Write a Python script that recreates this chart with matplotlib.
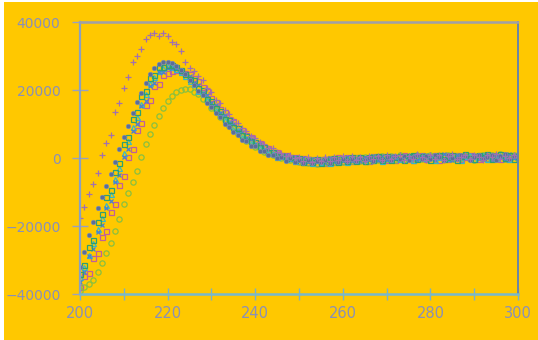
import numpy as np
import matplotlib
matplotlib.use("Agg")
import matplotlib.pyplot as plt
from matplotlib.patches import Rectangle

# Wavelength grid (nm), 1 nm steps
wavelength = list(range(200, 301))

# Ellipticity values in thousands, one list per sample
plus_k = [
    -17.5, -14.5, -10.5, -7.5, -4.5, 0.9, 4.5, 6.8, 13.6, 16.3,
    20.7, 23.7, 28.3, 30.0, 32.0, 34.9, 36.2, 36.7, 36.0, 36.7,
    35.9, 34.2, 33.5, 31.5, 28.3, 26.4, 25.6, 24.0, 22.9, 20.6,
    19.4, 17.2, 16.3, 14.0, 12.9, 11.2, 10.3, 8.7, 7.9, 6.5,
    5.9, 4.6, 4.1, 3.0, 2.8, 1.7, 1.6, 0.6, 0.9, -0.1,
    0.4, -0.8, 0.2, -1.2, -0.1, -0.9, 0.3, -1.0, 0.2, -0.7,
    0.5, -0.8, 0.6, -0.5, 0.4, -0.9, 0.7, -0.3, 0.5, -0.6,
    0.8, -0.4, 0.6, 1.0, -0.5, 0.7, -0.2, 1.1, 0.3, -0.6,
    0.9, -0.2, 1.0, -0.5, 0.6, 1.1, -0.3, 0.4, 0.9, -0.4,
    1.0, 0.2, -0.5, 0.8, 0.3, 1.1, -0.4, 0.7, 0.0, 0.9,
    0.3,
]
dot_k = [
    -32.0, -27.5, -22.5, -18.8, -14.8, -11.6, -8.2, -4.8, -1.2, 2.6,
    6.2, 9.4, 13.2, 16.4, 19.2, 22.0, 24.6, 26.4, 27.6, 28.2,
    28.3, 27.9, 27.1, 26.0, 24.7, 22.9, 21.6, 19.7, 18.4, 16.3,
    15.1, 13.1, 12.0, 10.1, 9.2, 7.6, 6.9, 5.4, 5.0, 3.6,
    3.4, 2.1, 2.0, 0.9, 1.0, -0.1, 0.3, -0.8, -0.1, -1.2,
    -0.5, -1.4, -0.7, -1.6, -0.8, -1.3, -0.6, -1.5, -0.4, -1.2,
    -0.2, -1.0, -0.3, -0.9, 0.0, -0.7, 0.1, -0.8, 0.4, -0.6,
    0.2, -0.5, 0.5, -0.3, 0.6, -0.6, 0.3, 0.8, -0.4, 0.5,
    -0.3, 0.8, 0.2, -0.6, 1.0, 0.0, -0.4, 0.9, 0.5, -0.5,
    0.4, 1.0, -0.3, 0.2, 0.9, -0.5, 0.6, 1.1, -0.2, 0.7,
    0.3,
]
square_a_k = [
    -34.0, -31.5, -26.2, -24.0, -18.9, -16.6, -11.5, -9.4, -4.0, -1.6,
    4.0, 6.2, 11.4, 13.4, 18.2, 19.6, 23.6, 24.4, 26.9, 26.8,
    27.5, 27.3, 26.8, 25.9, 24.8, 23.2, 22.8, 20.6, 19.9, 17.5,
    16.9, 14.6, 13.9, 11.6, 11.2, 9.0, 8.7, 6.8, 6.5, 4.9,
    4.7, 3.2, 3.2, 1.8, 1.9, 0.7, 1.0, -0.1, 0.3, -0.6,
    -0.1, -1.1, -0.2, -1.3, -0.3, -1.4, -0.2, -1.3, 0.0, -1.1,
    0.1, -0.9, 0.2, -1.0, 0.3, -0.8, 0.4, -0.7, 0.5, -0.6,
    0.6, -0.6, 0.3, 0.7, -0.5, 0.5, 0.9, -0.4, 0.6, 0.2,
    -0.6, 0.7, 0.9, -0.3, 0.4, 1.0, -0.6, 0.6, 1.1, -0.1,
    -0.4, 0.9, 0.4, 1.1, -0.2, 0.6, 1.2, -0.1, 0.8, -0.3,
    0.6,
]
square_b_k = [
    -38.0, -34.8, -33.8, -29.4, -28.0, -23.2, -21.4, -16.0, -13.6, -8.0,
    -5.4, 0.2, 2.6, 8.2, 10.4, 15.6, 17.0, 21.2, 21.8, 24.5,
    25.0, 25.6, 25.8, 25.5, 24.9, 24.6, 23.4, 22.6, 20.9, 19.8,
    17.6, 16.6, 14.5, 13.6, 11.5, 10.8, 8.9, 8.3, 6.7, 6.2,
    4.8, 4.5, 3.1, 3.0, 1.8, 1.9, 0.7, 1.0, -0.1, 0.4,
    -0.8, 0.1, -1.3, -0.2, -1.4, -0.3, -1.5, 0.0, -1.2, 0.3,
    -1.0, 0.2, -0.9, 0.4, -0.6, 0.1, -0.8, 0.5, -0.4, 0.7,
    -0.5, 0.6, -0.7, 0.4, 0.9, -0.3, -0.6, 0.7, 1.0, -0.2,
    0.6, 0.9, -0.5, 0.8, -0.3, 0.5, 1.0, -0.4, 0.3, 0.9,
    0.5, -0.4, 0.9, 0.1, 1.0, 0.4, -0.3, 0.8, 0.2, 1.0,
    0.4,
]
cross_k = [
    -36.5, -33.6, -28.7, -26.8, -21.7, -19.8, -14.6, -12.6, -7.2, -5.0,
    0.4, 2.6, 8.0, 10.0, 15.2, 16.8, 21.2, 22.0, 25.2, 25.4,
    26.4, 26.6, 26.3, 25.7, 24.8, 24.1, 22.0, 21.6, 19.2, 18.6,
    16.2, 15.7, 13.2, 12.7, 10.4, 10.1, 7.9, 7.7, 5.8, 5.7,
    4.0, 4.1, 2.5, 2.7, 1.3, 1.6, 0.4, 0.8, -0.3, 0.2,
    -1.0, 0.0, -1.2, -0.4, -1.1, -0.6, -1.4, -0.1, -1.3, 0.1,
    -0.9, 0.3, -0.8, 0.1, -1.0, 0.4, -0.7, 0.5, -0.6, 0.6,
    -0.7, 0.7, -0.4, -0.6, 0.6, 0.3, 0.9, -0.5, 0.4, 1.0,
    0.3, -0.6, 0.7, 1.1, -0.2, -0.5, 0.9, 0.2, 0.7, -0.4,
    0.9, -0.3, 0.6, 1.0, -0.5, 0.8, 0.3, -0.6, 1.1, 0.1,
    0.8,
]
triangle_k = [
    -35.0, -32.0, -28.5, -25.0, -21.0, -17.5, -13.8, -10.5, -6.2, -2.8,
    1.5, 5.0, 9.0, 12.2, 16.0, 18.8, 22.0, 23.8, 25.6, 26.5,
    27.0, 26.7, 26.2, 25.3, 24.2, 22.6, 21.9, 19.8, 19.2, 17.0,
    16.0, 14.0, 13.3, 11.1, 10.6, 8.6, 8.2, 6.3, 6.0, 4.5,
    4.2, 2.9, 2.6, 1.5, 1.4, 0.4, 0.6, -0.4, 0.0, -0.9,
    -0.3, -1.2, -0.4, -1.5, -0.5, -1.2, -0.1, -1.4, -0.3, -0.9,
    0.2, -1.1, 0.0, -0.7, 0.2, -0.9, 0.3, -0.5, 0.1, -0.8,
    0.4, -0.2, 0.7, -0.4, 0.2, 0.8, -0.5, 0.3, 0.9, -0.1,
    0.5, -0.5, 0.4, 0.9, -0.1, 0.7, 0.2, -0.5, 0.6, 1.0,
    -0.2, 0.5, 0.8, -0.4, 0.6, 0.1, 0.9, 0.4, -0.4, 0.6,
    0.5,
]
ring_k = [
    -39.0, -38.0, -37.0, -35.9, -33.6, -30.8, -28.0, -25.0, -21.6, -17.8,
    -13.6, -10.2, -7.2, -3.8, 0.4, 4.0, 7.0, 9.8, 12.4, 14.8,
    16.8, 18.3, 19.3, 20.0, 20.3, 20.3, 19.4, 18.9, 17.5, 16.8,
    14.8, 14.1, 12.0, 11.2, 9.3, 8.7, 7.0, 6.4, 5.0, 4.6,
    3.3, 2.8, 1.9, 1.6, 0.8, 0.6, 0.0, -0.1, -0.6, -0.5,
    -1.3, -0.6, -1.6, -0.5, -1.7, -0.6, -1.5, -0.4, -1.3, -0.3,
    -1.1, -0.2, -0.9, -0.1, -0.8, 0.2, -1.0, 0.3, -0.7, 0.5,
    -0.4, 0.6, -0.6, 0.8, -0.5, 0.4, -0.3, 0.9, -0.2, 0.6,
    0.8, -0.3, 0.5, 0.2, 1.0, -0.4, 0.6, -0.1, 0.9, 0.3,
    -0.5, 0.7, 1.0, -0.2, 0.8, 0.0, 1.1, -0.3, 0.5, 0.9,
    -0.2,
]

x_ticks = [200, 220, 240, 260, 280, 300]
y_ticks = [-40000, -20000, 0, 20000, 40000]

GOLD = "#FFC800"

fig = plt.figure(figsize=(5.38, 3.40), dpi=100, facecolor="white")
fig.patches.append(Rectangle((4 / 538, 0), 1 - 4 / 538, 1 - 2 / 340,
                             transform=fig.transFigure, facecolor=GOLD,
                             edgecolor="none", zorder=-10))

ax = fig.add_axes([80 / 538, 46 / 340, 438 / 538, 272 / 340])
ax.set_facecolor(GOLD)

wl = np.array(wavelength)
series = [
    (square_b_k, dict(marker="s", ms=3.6, mfc="none", mec="#c0609a", mew=0.9)),
    (ring_k, dict(marker="o", ms=3.8, mfc="none", mec="#88c040", mew=0.9)),
    (triangle_k, dict(marker="^", ms=3.6, mfc="none", mec="#38b8c8", mew=0.9)),
    (cross_k, dict(marker="x", ms=3.4, mec="#4a80d0", mew=0.9)),
    (square_a_k, dict(marker="s", ms=3.6, mfc="none", mec="#30a070", mew=0.9)),
    (dot_k, dict(marker="o", ms=3.2, mfc="#5a6e98", mec="#7a8ab0", mew=0.5)),
    (plus_k, dict(marker="+", ms=4.0, mec="#a070b0", mew=0.9)),
]
for vals, style in series:
    ax.plot(wl, np.array(vals) * 1000, linestyle="none", **style)

ax.set_xlim(200, 300)
ax.set_ylim(-40000, 40000)
ax.set_xticks(list(range(200, 301, 10)))
ax.set_xticklabels([str(v) if v in x_ticks else "" for v in range(200, 301, 10)])
ax.set_yticks(y_ticks)
ax.set_yticklabels([str(v).replace("-", "\u2212") for v in y_ticks])

label_color = "#8a90b8"
ax.tick_params(axis="x", direction="inout", length=8, width=1.0,
               color="#7ab0c8", labelcolor=label_color, labelsize=10.5, pad=5)
ax.tick_params(axis="y", direction="inout", length=12, width=1.0,
               color="#9aa0c0", labelcolor=label_color, labelsize=10, pad=8)

ax.spines["left"].set_color("#8aa0c0")
ax.spines["left"].set_linewidth(1.6)
ax.spines["bottom"].set_color("#78b8cc")
ax.spines["bottom"].set_linewidth(1.8)
ax.spines["right"].set_color("#6a84a8")
ax.spines["right"].set_linewidth(1.4)
ax.spines["top"].set_color("#a0a0a8")
ax.spines["top"].set_linewidth(1.8)
ax.spines["top"].set_linestyle((0, (1, 1)))

fig.savefig("out.png", dpi=100, facecolor=fig.get_facecolor())
